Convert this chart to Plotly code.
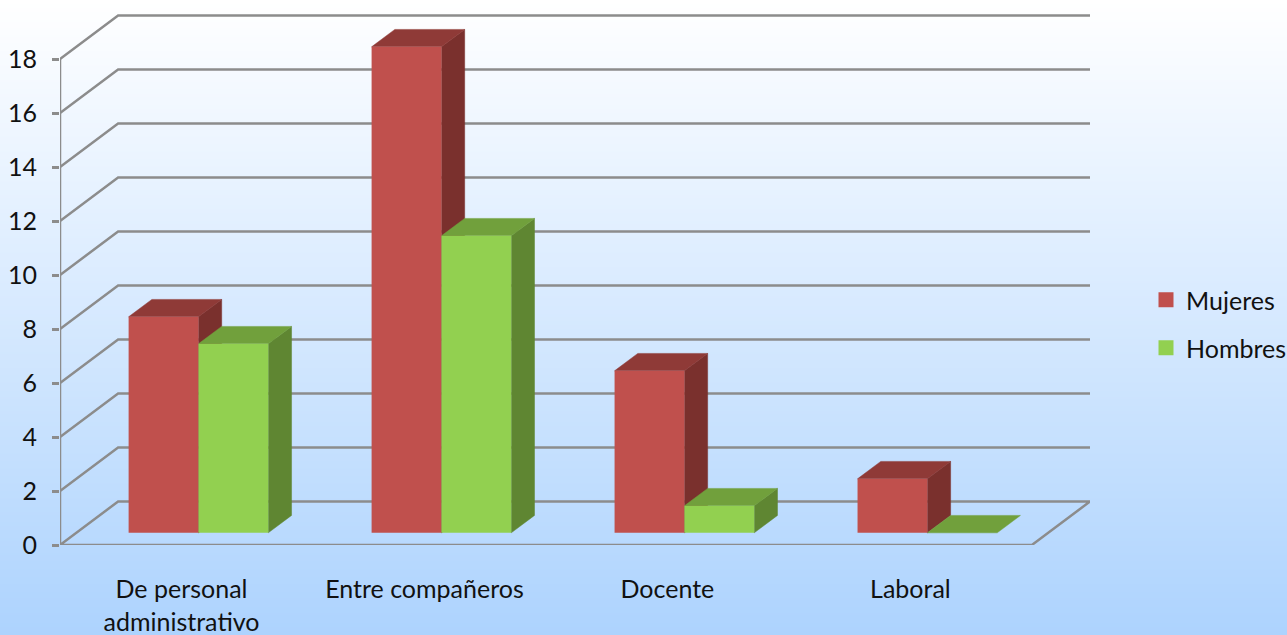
import base64, struct, zlib
import plotly.graph_objects as go

W, H = 1287, 635
categories = ["De personal<br>administrativo", "Entre compañeros", "Docente", "Laboral"]
mujeres = [8, 18, 6, 2]
hombres = [7, 11, 1, 0]
y_ticks = list(range(0, 20, 2))

FONT = "Lato"
FS = 25
TEXT = "#111111"
GRID = "#8C8C8C"
RED, RED_TOP, RED_SIDE = "#C0504D", "#8F3A37", "#7A302D"
GREEN, GREEN_TOP, GREEN_SIDE = "#92D050", "#71A03C", "#5F8632"

# pixel geometry of the oblique projection
X0, X_FRONT_END, X_BACK_END = 60, 1030, 1090
Y_ZERO = 545
PX_PER_CAT = (X_FRONT_END - X0) / len(categories)
PX_PER_UNIT = 27.0
DX = 58 / PX_PER_CAT        # wall depth, category units
DY = 43.5 / PX_PER_UNIT     # wall depth, value units
INSET = 0.28                # front of bars relative to wall depth
BAR_DEPTH = 0.4             # bar depth relative to wall depth
BAR_W = 69.7 / PX_PER_CAT
NCAT = len(categories)
XMAX = NCAT + DX
YMAX = Y_ZERO / PX_PER_UNIT


def gradient_png(h, top=(255, 255, 255), bottom=(173, 211, 254)):
    raw = bytearray()
    for i in range(h):
        t = i / (h - 1)
        raw += b"\x00" + bytes(round(a + (b - a) * t) for a, b in zip(top, bottom))
    def chunk(tag, data):
        return struct.pack(">I", len(data)) + tag + data + struct.pack(">I", zlib.crc32(tag + data))
    png = b"\x89PNG\r\n\x1a\n" + chunk(b"IHDR", struct.pack(">IIBBBBB", 1, h, 8, 2, 0, 0, 0))
    png += chunk(b"IDAT", zlib.compress(bytes(raw))) + chunk(b"IEND", b"")
    return "data:image/png;base64," + base64.b64encode(png).decode()


fig = go.Figure()


def line(xs, ys, width=2.5):
    fig.add_trace(go.Scatter(x=xs, y=ys, mode="lines", showlegend=False, hoverinfo="skip",
                             cliponaxis=False, line=dict(color=GRID, width=width)))


def poly(xs, ys, color):
    fig.add_trace(go.Scatter(x=xs + xs[:1], y=ys + ys[:1], mode="lines", fill="toself", fillcolor=color,
                             showlegend=False, hoverinfo="skip", cliponaxis=False,
                             line=dict(color=color, width=0.5)))


# walls and floor
for v in y_ticks[1:]:
    line([0, DX, NCAT + DX], [v, v + DY, v + DY])
line([0, DX, NCAT + DX, NCAT, 0], [0, DY, DY, 0, 0])
line([0, 0], [0, y_ticks[-1]])

# bar sides and tops, computed from the values
bx, by = BAR_DEPTH * DX, BAR_DEPTH * DY
base = INSET * DY
centers = [i + 0.5 + (INSET * 58 + 0.7) / PX_PER_CAT for i in range(NCAT)]
for i, c in enumerate(centers):
    for vals, left, top_c, side_c in ((mujeres, c - BAR_W, RED_TOP, RED_SIDE),
                                      (hombres, c, GREEN_TOP, GREEN_SIDE)):
        v = vals[i] + base
        r = left + BAR_W
        if vals[i] > 0:
            poly([r, r + bx, r + bx, r], [base, base + by, v + by, v], side_c)
        poly([left, left + bx, r + bx, r], [v, v + by, v + by, v], top_c)

# front faces on an overlaying axis pair so they sit above every side face
for name, vals, color, shift, leg in (("Mujeres", mujeres, RED, -BAR_W, "legend"),
                                      ("Hombres", hombres, GREEN, 0, "legend2")):
    fig.add_trace(go.Bar(name=name, x=centers, y=vals, base=base, width=BAR_W, offset=shift,
                         marker=dict(color=color, line=dict(width=0)), xaxis="x2", yaxis="y2",
                         hoverinfo="skip", showlegend=False))
    # legend key: square marker, one legend box per row to reach the row spacing
    fig.add_trace(go.Scatter(name=name, x=[None], y=[None], mode="markers", legend=leg,
                             marker=dict(symbol="square", size=15, color=color, line=dict(width=0))))

x_dom = [X0 / W, X_BACK_END / W]
y_dom = [(H - Y_ZERO) / H, 1]
leg_common = dict(xanchor="left", yanchor="middle", bgcolor="rgba(0,0,0,0)", itemwidth=30,
                  font=dict(family=FONT, size=FS, color=TEXT))
fig.update_layout(
    width=W, height=H, autosize=False,
    margin=dict(l=0, r=0, t=0, b=0, pad=0, autoexpand=False),
    paper_bgcolor="#DCECFF", plot_bgcolor="rgba(0,0,0,0)",
    font=dict(family=FONT, size=FS, color=TEXT),
    barmode="overlay",
    images=[dict(source=gradient_png(H), xref="paper", yref="paper", x=0, y=1, sizex=1, sizey=1,
                 sizing="stretch", xanchor="left", yanchor="top", layer="below")],
    xaxis=dict(domain=x_dom, range=[0, XMAX], tickmode="array",
               tickvals=[i + 0.5 for i in range(NCAT)], ticktext=categories,
               showgrid=False, zeroline=False, showline=False, ticks="",
               ticklabelstandoff=27, tickfont=dict(family=FONT, size=FS, color=TEXT)),
    yaxis=dict(domain=y_dom, range=[0, YMAX], tickmode="array", tickvals=y_ticks,
               ticktext=[str(v) for v in y_ticks], showgrid=False, zeroline=False, showline=False,
               ticks="outside", ticklen=7, tickwidth=2.5, tickcolor=GRID, ticklabelstandoff=10,
               tickfont=dict(family=FONT, size=FS, color=TEXT)),
    xaxis2=dict(domain=x_dom, range=[0, XMAX], overlaying="x", visible=False),
    yaxis2=dict(domain=y_dom, range=[0, YMAX], overlaying="y", visible=False),
    legend=dict(x=1146 / W, y=(H - 300) / H, **leg_common),
    legend2=dict(x=1146 / W, y=(H - 348) / H, **leg_common),
)
fig.write_html("out.html", config=dict(displayModeBar=False),
               post_script="document.body.style.margin='0';document.body.style.overflow='hidden';")
